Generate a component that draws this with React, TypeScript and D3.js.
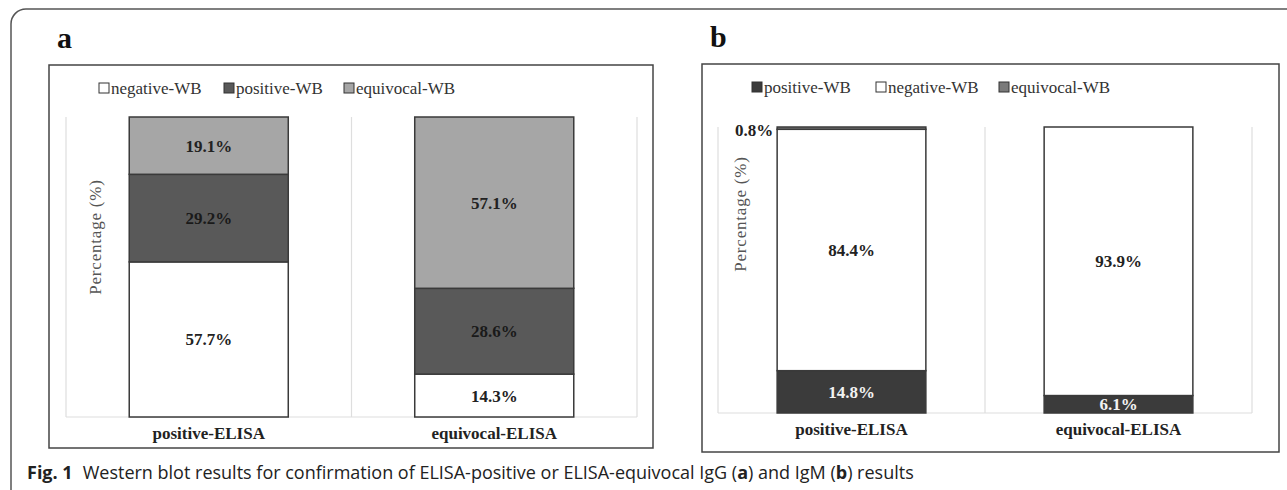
import React from "react";
import * as d3 from "d3";

const categories = ["positive-ELISA", "equivocal-ELISA"];

// Panel a (IgG) — segment heights as drawn, labels as printed
const seriesA = ["negative-WB", "positive-WB", "equivocal-WB"];
const negativeA = [51.7, 14.3];
const positiveA = [29.2, 28.6];
const equivocalA = [19.1, 57.1];
const negativeALabels = ["57.7%", "14.3%"];
const positiveALabels = ["29.2%", "28.6%"];
const equivocalALabels = ["19.1%", "57.1%"];

// Panel b (IgM)
const seriesB = ["positive-WB", "negative-WB", "equivocal-WB"];
const positiveB = [14.8, 6.1];
const negativeB = [84.4, 93.9];
const equivocalB = [0.8, 0];
const positiveBLabels = ["14.8%", "6.1%"];
const negativeBLabels = ["84.4%", "93.9%"];
const equivocalBLabels = ["0.8%", ""];

const SERIF = "'Liberation Serif', 'Times New Roman', serif";
const SANS = "'Open Sans', 'Noto Sans', sans-serif";

type PanelProps = {
  letter: string;
  box: [number, number, number, number];
  plot: [number, number, number, number];
  series: string[];
  values: number[][];
  labels: string[][];
  colors: string[];
  textColors: string[];
  legendX: number[];
  yLabel: [number, number];
  outsideLabel?: number;
};

function Panel(p: PanelProps) {
  const [bx0, by0, bx1, by1] = p.box;
  const [px0, py0, px1, py1] = p.plot;
  const x = d3.scaleBand<string>().domain(categories).range([px0, px1]).paddingInner(0.443).paddingOuter(0.2215);
  const y = d3.scaleLinear().domain([0, 100]).range([py1, py0]);
  const rows = categories.map((c, i) => {
    const r: any = { cat: c };
    p.series.forEach((s, k) => (r[s] = p.values[k][i]));
    return r;
  });
  const stacked = d3.stack<any>().keys(p.series)(rows);
  const step = x.step();
  const gridXs = [px0, px0 + step, px1];
  return (
    <g>
      <text x={bx0 + 8} y={by0 - 17} fontFamily={SERIF} fontWeight="bold" fontSize={30} fill="#111">{p.letter}</text>
      <rect x={bx0} y={by0} width={bx1 - bx0} height={by1 - by0} fill="#fff" stroke="#444" strokeWidth={1.5} />
      {gridXs.map((gx, i) => (
        <line key={i} x1={gx} x2={gx} y1={py0} y2={py1} stroke="#dedede" strokeWidth={1.2} />
      ))}
      <line x1={px0} x2={px1} y1={py1} y2={py1} stroke="#dedede" strokeWidth={1.2} />
      {p.series.map((s, k) => (
        <g key={s} transform={`translate(${p.legendX[k]},${by0 + 23})`}>
          <rect x={0} y={-5} width={10} height={10} fill={p.colors[k]} stroke="#333" strokeWidth={1} />
          <text x={12} y={5.5} fontFamily={SERIF} fontSize={17} fill="#333">{s}</text>
        </g>
      ))}
      <text transform={`translate(${p.yLabel[0]},${p.yLabel[1]}) rotate(-90)`} textAnchor="middle" fontFamily={SERIF} fontSize={17} letterSpacing={0.8} fill="#555">Percentage  (%)</text>
      {stacked.map((layer, k) =>
        layer.map((d, i) => {
          const v = d[1] - d[0];
          if (v <= 0) return null;
          const x0 = x(categories[i])!;
          const yTop = y(d[1]);
          const yBot = y(d[0]);
          return (
            <rect key={`${k}-${i}`} x={x0} y={yTop} width={x.bandwidth()} height={yBot - yTop} fill={p.colors[k]} stroke="#3a3a3a" strokeWidth={1.5} />
          );
        })
      )}
      {stacked.map((layer, k) =>
        layer.map((d, i) => {
          const v = d[1] - d[0];
          if (v <= 0) return null;
          const x0 = x(categories[i])!;
          const yTop = y(d[1]);
          const yBot = y(d[0]);
          const label = p.labels[k][i];
          if (p.outsideLabel === k) {
            return (
              <text key={`l${k}-${i}`} x={x0 - 4} y={yTop + 9} textAnchor="end" fontFamily={SERIF} fontWeight="bold" fontSize={17} fill="#222">{label}</text>
            );
          }
          return (
            <text key={`l${k}-${i}`} x={x0 + x.bandwidth() / 2} y={(yTop + yBot) / 2 + 6} textAnchor="middle" fontFamily={SERIF} fontWeight="bold" fontSize={17} fill={p.textColors[k]}>{label}</text>
          );
        })
      )}
      {categories.map((c) => (
        <text key={c} x={x(c)! + x.bandwidth() / 2} y={py1 + 22} textAnchor="middle" fontFamily={SERIF} fontWeight="bold" fontSize={17} fill="#222">{c}</text>
      ))}
    </g>
  );
}

export default function App() {
  return (
    <svg width={1287} height={490} style={{ position: "absolute", left: 0, top: 0, background: "#fff" }}>
      <rect x={11} y={9} width={1400} height={600} rx={15} ry={15} fill="#fff" stroke="#555" strokeWidth={1.5} />
      <Panel
        letter="a"
        box={[49, 65, 653, 448]}
        plot={[66, 117, 637, 417]}
        series={seriesA}
        values={[negativeA, positiveA, equivocalA]}
        labels={[negativeALabels, positiveALabels, equivocalALabels]}
        colors={["#ffffff", "#595959", "#a6a6a6"]}
        textColors={["#222", "#1a1a1a", "#222"]}
        legendX={[99, 224, 344]}
        yLabel={[101, 237]}
      />
      <Panel
        letter="b"
        box={[702, 64, 1279, 452]}
        plot={[718, 127, 1252, 413]}
        series={seriesB}
        values={[positiveB, negativeB, equivocalB]}
        labels={[positiveBLabels, negativeBLabels, equivocalBLabels]}
        colors={["#3b3b3b", "#ffffff", "#7a7a7a"]}
        textColors={["#f2f2f2", "#222", "#222"]}
        legendX={[752, 876, 999]}
        yLabel={[746, 214]}
        outsideLabel={2}
      />
      <text x={27} y={479} fontFamily={SANS} fontSize={18} fill="#222">
        <tspan fontWeight="bold">Fig. 1</tspan>
        <tspan dx={10}>Western blot results for confirmation of ELISA-positive or ELISA-equivocal IgG (</tspan>
        <tspan fontWeight="bold">a</tspan>
        <tspan>) and IgM (</tspan>
        <tspan fontWeight="bold">b</tspan>
        <tspan>) results</tspan>
      </text>
    </svg>
  );
}
